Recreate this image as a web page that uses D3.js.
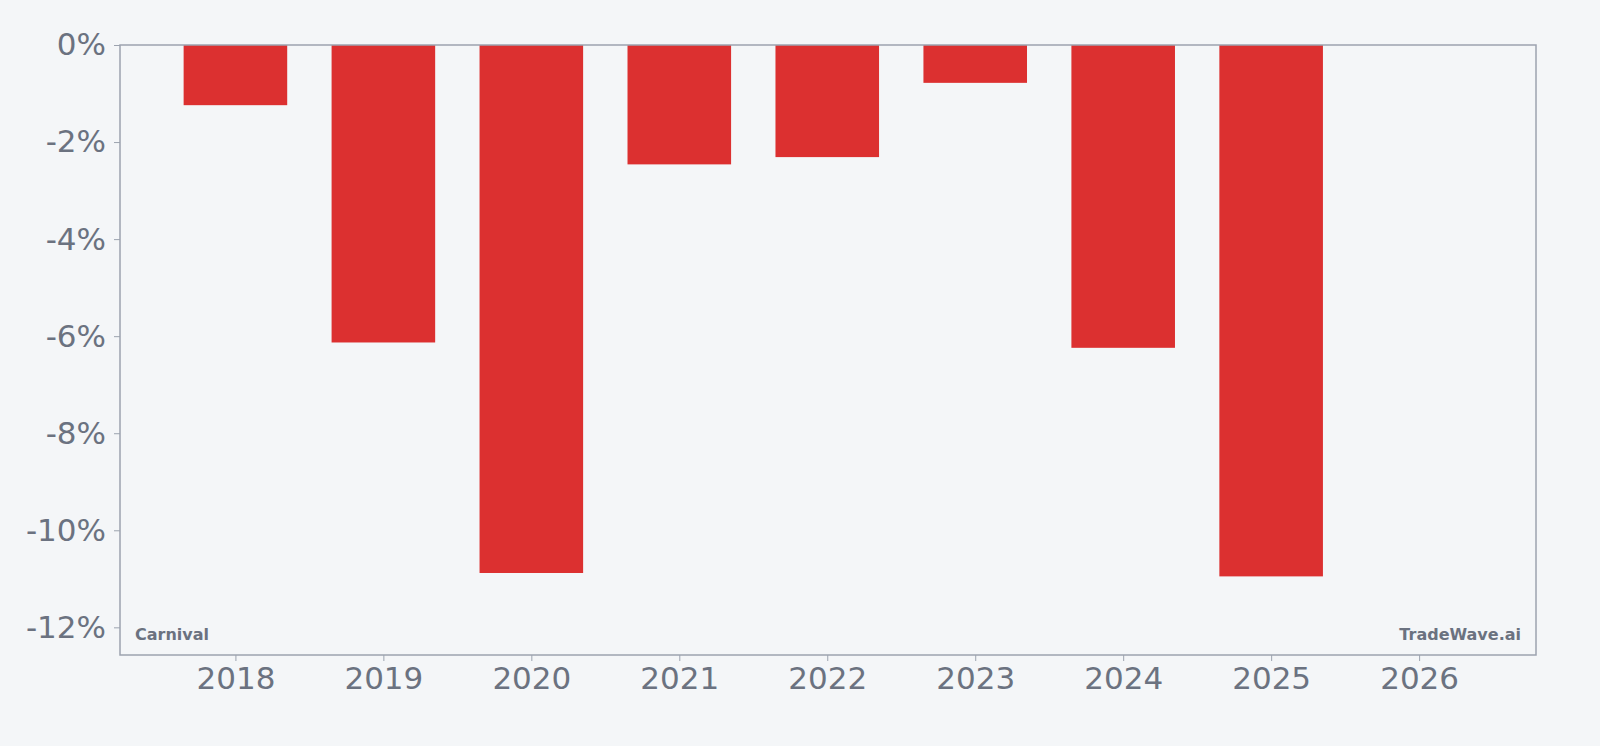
<!DOCTYPE html>
<html><head><meta charset="utf-8">
<script src="https://cdn.jsdelivr.net/npm/d3@7"></script>
<style>body{margin:0;background:#f4f6f8;}svg{display:block;font-family:"DejaVu Sans",sans-serif;}</style>
</head><body><svg id="c" width="1600" height="746"></svg>
<script>
const years = [2018,2019,2020,2021,2022,2023,2024,2025,2026];
const values = [-1.24,-6.13,-10.88,-2.46,-2.31,-0.78,-6.24,-10.95,null];
const yTicks = [0,-2,-4,-6,-8,-10,-12];
const L=120,R=1536,T=45,B=655;
const svg=d3.select("#c");
const x=d3.scaleLinear().domain([2017.22,2026.79]).range([L,R]);
const y=d3.scaleLinear().domain([-12.57,0]).range([B,T]);
const bw=x(2018.35)-x(2017.65);
svg.selectAll("rect.bar").data(years.map((yr,i)=>({yr,v:values[i]})).filter(d=>d.v!=null))
 .enter().append("rect").attr("fill","#dc3030")
 .attr("x",d=>x(d.yr)-bw/2).attr("width",bw)
 .attr("y",y(0)).attr("height",d=>y(d.v)-y(0));
svg.append("rect").attr("x",L).attr("y",T).attr("width",R-L).attr("height",B-T)
 .attr("fill","none").attr("stroke","#9ca3af").attr("stroke-width",1.5);
const ya=svg.append("g").attr("transform",`translate(${L},0)`)
 .call(d3.axisLeft(y).tickValues(yTicks).tickFormat(d=>d+"%").tickSize(6).tickPadding(8));
const xa=svg.append("g").attr("transform",`translate(0,${B})`)
 .call(d3.axisBottom(x).tickValues(years).tickFormat(d3.format("d")).tickSize(6).tickPadding(6));
[ya,xa].forEach(g=>{g.select(".domain").remove();
 g.selectAll("line").attr("stroke","#9ca3af");
 g.selectAll("text").attr("fill","#6b7280").attr("font-size",31).attr("font-family","DejaVu Sans");});
svg.append("text").attr("x",L+15).attr("y",B-15).text("Carnival")
 .attr("fill","#6b7280").attr("font-size",16).attr("font-weight","bold");
svg.append("text").attr("x",R-15).attr("y",B-15).attr("text-anchor","end").text("TradeWave.ai")
 .attr("fill","#6b7280").attr("font-size",16).attr("font-weight","bold");
</script></body></html>
